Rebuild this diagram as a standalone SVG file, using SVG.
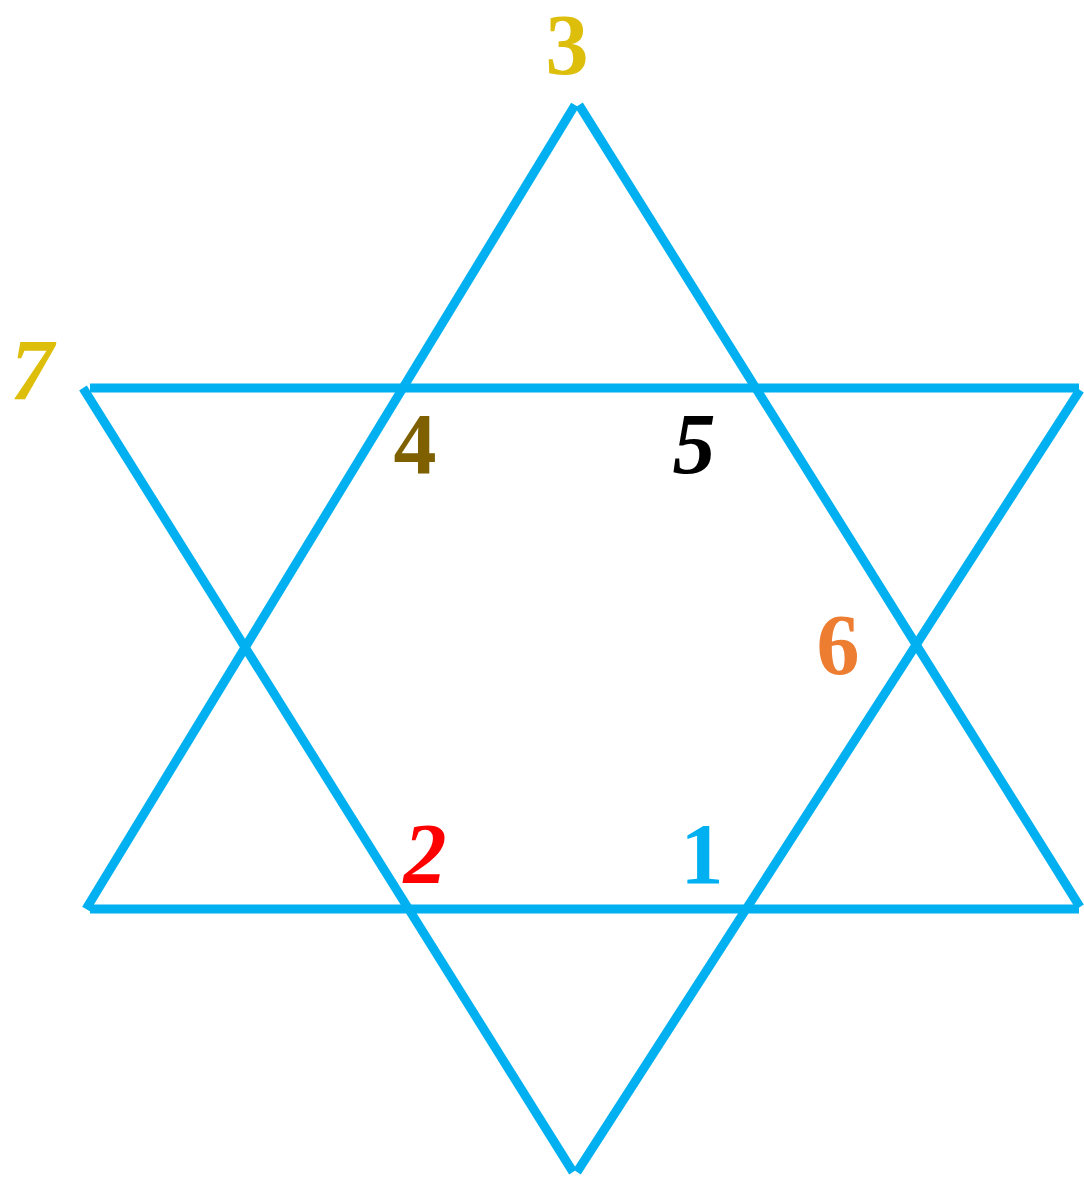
<svg xmlns="http://www.w3.org/2000/svg" width="1084" height="1179" viewBox="0 0 1084 1179">
<style>
.e{stroke:#00B0F0;stroke-width:9;fill:none;stroke-linecap:butt}
.t{font-family:"Liberation Serif","Times New Roman",serif;font-weight:bold;font-size:86px;text-anchor:middle}
.i{font-style:italic}
</style>
<rect width="1084" height="1179" fill="#fff"/>
<g id="connectors">
<line class="e" x1="575" y1="105" x2="86" y2="909"/>
<line class="e" x1="579" y1="105" x2="1080" y2="907"/>
<line class="e" x1="90" y1="909" x2="1079" y2="909"/>
<line class="e" x1="90" y1="388" x2="1079" y2="388"/>
<line class="e" x1="83" y1="388" x2="573" y2="1172"/>
<line class="e" x1="1080" y1="390" x2="577" y2="1172"/>
</g>
<g id="n3"><text class="t" x="567" y="74" font-size="78" fill="#DDBE0B">3</text></g>
<g id="n7"><text class="t i" x="32" y="399" fill="#DDBE0B">7</text></g>
<g id="n4"><text class="t" x="415" y="473" fill="#7F6000">4</text></g>
<g id="n5"><text class="t i" x="694" y="473" fill="#000">5</text></g>
<g id="n6"><text class="t" x="838" y="674" fill="#ED7D31">6</text></g>
<g id="n2"><text class="t i" x="425" y="883" fill="#FF0000">2</text></g>
<g id="n1"><text class="t" x="702" y="883" fill="#00B0F0">1</text></g>
</svg>
